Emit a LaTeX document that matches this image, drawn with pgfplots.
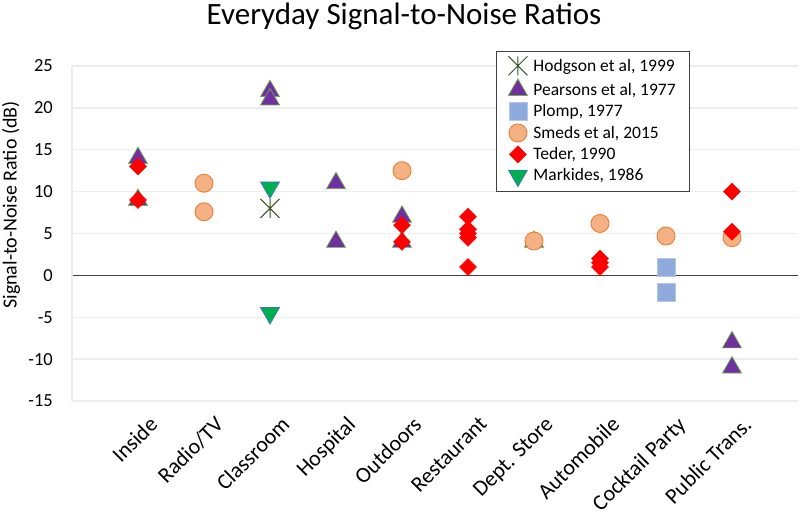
\documentclass[border=0pt]{standalone}
\usepackage{fontspec}
\setmainfont{Carlito}
\usepackage{pgfplots}
\pgfplotsset{compat=1.18}

\definecolor{gridgray}{HTML}{EDEDED}
\definecolor{zeroline}{HTML}{404040}
\definecolor{hodg}{HTML}{375623}
\definecolor{pearfill}{HTML}{7030A0}
\definecolor{pearedge}{HTML}{70AD47}
\definecolor{plompfill}{HTML}{8FAADC}
\definecolor{plompedge}{HTML}{B4C7E7}
\definecolor{smedsfill}{HTML}{F4B183}
\definecolor{smedsedge}{HTML}{ED7D31}
\definecolor{teder}{HTML}{FF0000}
\definecolor{markfill}{HTML}{00B050}
\definecolor{markedge}{HTML}{4472C4}

% X with a vertical bar, like the spreadsheet "star" marker
\pgfdeclareplotmark{xstar}{%
  \pgfpathmoveto{\pgfqpoint{0pt}{\pgfplotmarksize}}%
  \pgfpathlineto{\pgfqpoint{0pt}{-\pgfplotmarksize}}%
  \pgfpathmoveto{\pgfqpoint{-\pgfplotmarksize}{\pgfplotmarksize}}%
  \pgfpathlineto{\pgfqpoint{\pgfplotmarksize}{-\pgfplotmarksize}}%
  \pgfpathmoveto{\pgfqpoint{-\pgfplotmarksize}{-\pgfplotmarksize}}%
  \pgfpathlineto{\pgfqpoint{\pgfplotmarksize}{\pgfplotmarksize}}%
  \pgfusepathqstroke}

\begin{document}
\begin{tikzpicture}
\begin{axis}[
    at={(0pt,0pt)}, anchor=south west,
    scale only axis,
    width=726pt, height=335pt,
    xmin=0, xmax=11,
    ymin=-15, ymax=25,
    ytick={-15,-10,...,25},
    xtick={1,...,10},
    xticklabels={Inside,Radio/TV,Classroom,Hospital,Outdoors,Restaurant,Dept. Store,Automobile,Cocktail Party,Public Trans.},
    major tick length=0pt,
    axis line style={draw=none},
    ymajorgrids,
    grid style={gridgray, line width=1.3pt},
    extra y ticks={0},
    extra y tick labels={},
    extra y tick style={grid style={zeroline, line width=1.2pt}},
    /pgf/number format/assume math mode=true,
    yticklabel style={font=\fontsize{18.5}{20}\selectfont, anchor=east, inner sep=0pt, xshift=-19pt},
    xticklabel style={font=\fontsize{22}{25}\selectfont, inner sep=0pt, xshift=10pt, yshift=-14pt, rotate=45, anchor=north east},
    only marks,
    clip=false,
    legend cell align=left,
    legend style={at={(0.584,1.045)}, anchor=north west,
        draw=black!75, line width=0.8pt,
        font=\fontsize{17.5}{20}\selectfont,
        row sep=3.6pt, inner xsep=12pt, inner ysep=5pt,
        /tikz/every odd column/.append style={column sep=4pt}},
]
\addplot[mark=xstar, mark size=9.5pt, mark options={draw=hodg, line width=1pt}]
  coordinates {(3,8)};
\addlegendentry{Hodgson et al, 1999}

\addplot[mark=triangle*, mark size=11pt, mark options={fill=pearfill, draw=pearedge, line width=0.7pt}]
  coordinates {(1,14) (1,9) (3,22) (3,21) (4,11) (4,4) (5,7) (5,4) (7,4) (10,-8) (10,-11)};
\addlegendentry{Pearsons et al, 1977}

\addplot[mark=square*, mark size=9pt, mark options={fill=plompfill, draw=plompedge, line width=0.7pt}]
  coordinates {(9,1) (9,-2)};
\addlegendentry{Plomp, 1977}

\addplot[mark=*, mark size=9pt, mark options={fill=smedsfill, draw=smedsedge, line width=0.9pt}]
  coordinates {(2,11) (2,7.6) (5,12.5) (7,4.1) (8,6.2) (9,4.7) (10,4.5)};
\addlegendentry{Smeds et al, 2015}

\addplot[mark=square*, mark size=6pt, mark options={fill=teder, draw=teder, rotate=45, line width=0.5pt}]
  coordinates {(1,13) (1,9) (5,6) (5,4) (6,7) (6,5.5) (6,5) (6,4.5) (6,1) (8,2) (8,1.5) (8,1) (10,10) (10,5.2)};
\addlegendentry{Teder, 1990}

\addplot[mark=triangle*, mark size=11pt, mark options={fill=markfill, draw=markedge, rotate=180, line width=0.7pt}]
  coordinates {(3,10.5) (3,-4.5)};
\addlegendentry{Markides, 1986}
\end{axis}
% faint left axis line
\draw[gridgray, line width=1.3pt] (0pt,0pt) -- (0pt,335pt);
% title and y label
\node[anchor=base, font=\fontsize{31}{34}\selectfont] at (332pt,376pt) {Everyday Signal-to-Noise Ratios};
\node[rotate=90, font=\fontsize{20}{22}\selectfont] at (-61pt,196pt) {Signal-to-Noise Ratio (dB)};
\pgfresetboundingbox
\useasboundingbox (-72pt,-123pt) rectangle (728pt,401pt);
\end{tikzpicture}
\end{document}
